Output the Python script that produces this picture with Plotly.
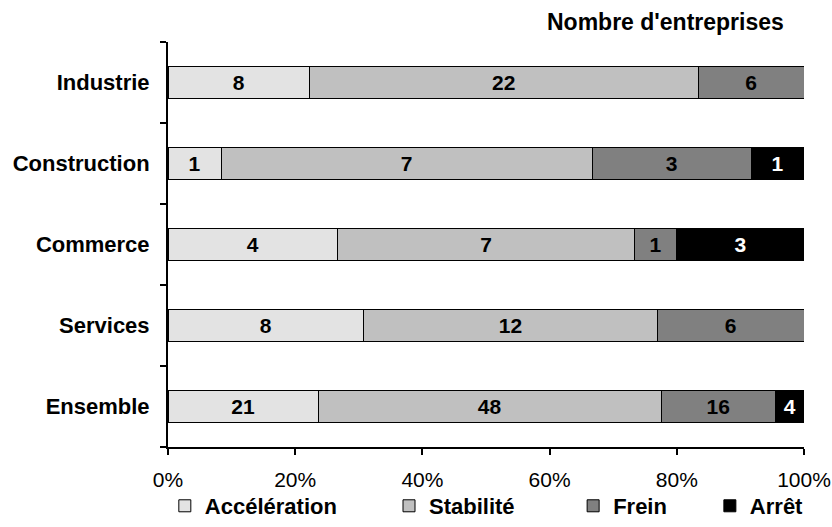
import plotly.graph_objects as go

# Secteurs et nombre d'entreprises par situation
secteurs = ["Industrie", "Construction", "Commerce", "Services", "Ensemble"]
acceleration = [8, 1, 4, 8, 21]
stabilite = [22, 7, 7, 12, 48]
frein = [6, 3, 1, 6, 16]
arret = [0, 1, 3, 0, 4]

series = [
    ("Accélération", acceleration, "#E3E3E3", "black"),
    ("Stabilité", stabilite, "#C0C0C0", "black"),
    ("Frein", frein, "#808080", "black"),
    ("Arrêt", arret, "#000000", "white"),
]

FONT = "Liberation Sans, Arial, sans-serif"
legend_x = [-0.005, 0.3475, 0.637, 0.852]

fig = go.Figure()
for i, (name, vals, color, txtcol) in enumerate(series):
    fig.add_trace(go.Bar(
        y=secteurs,
        x=vals,
        name=name,
        orientation="h",
        width=0.39,
        marker=dict(color=color, line=dict(color="black", width=1)),
        text=[str(v) if v else "" for v in vals],
        textposition="inside",
        insidetextanchor="middle",
        textangle=0,
        textfont=dict(family=FONT, size=21, color=txtcol, weight="bold"),
        legend="legend" if i == 0 else f"legend{i + 1}",
        hoverinfo="skip",
    ))

legend_common = dict(
    orientation="h",
    yanchor="bottom",
    y=-0.1975,
    xanchor="left",
    font=dict(family=FONT, size=22, color="black", weight="bold"),
    bgcolor="rgba(0,0,0,0)",
)
layout_legends = {}
for i, lx in enumerate(legend_x):
    key = "legend" if i == 0 else f"legend{i + 1}"
    layout_legends[key] = dict(legend_common, x=lx)

fig.update_layout(
    width=832,
    height=527,
    margin=dict(l=168, r=28, t=42, b=80, autoexpand=False),
    paper_bgcolor="white",
    plot_bgcolor="white",
    barmode="stack",
    barnorm="percent",
    showlegend=True,
    font=dict(family=FONT, size=22, color="black"),
    xaxis=dict(
        range=[0, 100],
        tickmode="array",
        tickvals=[0, 20, 40, 60, 80, 100],
        ticktext=["0%", "20%", "40%", "60%", "80%", "100%"],
        showgrid=False,
        zeroline=False,
        showline=True,
        linecolor="black",
        linewidth=2,
        ticks="outside",
        ticklen=6,
        tickwidth=2,
        tickcolor="black",
        ticklabelstandoff=7,
        ticklabeloverflow="allow",
        automargin=False,
        tickfont=dict(family=FONT, size=21, color="black"),
        fixedrange=True,
    ),
    yaxis=dict(
        categoryorder="array",
        categoryarray=secteurs[::-1],
        autorange=False,
        range=[-0.5, 4.5],
        showgrid=False,
        zeroline=False,
        showline=True,
        linecolor="black",
        linewidth=2,
        ticks="outside",
        tickson="boundaries",
        ticklen=6,
        tickwidth=2,
        tickcolor="black",
        ticklabelstandoff=12,
        automargin=False,
        tickfont=dict(family=FONT, size=22, color="black", weight="bold"),
        fixedrange=True,
    ),
    annotations=[dict(
        text="Nombre d'entreprises",
        xref="paper", yref="paper",
        x=0.972, y=1.049,
        xanchor="right", yanchor="middle",
        showarrow=False,
        font=dict(family=FONT, size=23, color="black", weight="bold"),
    )],
    **layout_legends,
)

fig.write_html("out.html")
